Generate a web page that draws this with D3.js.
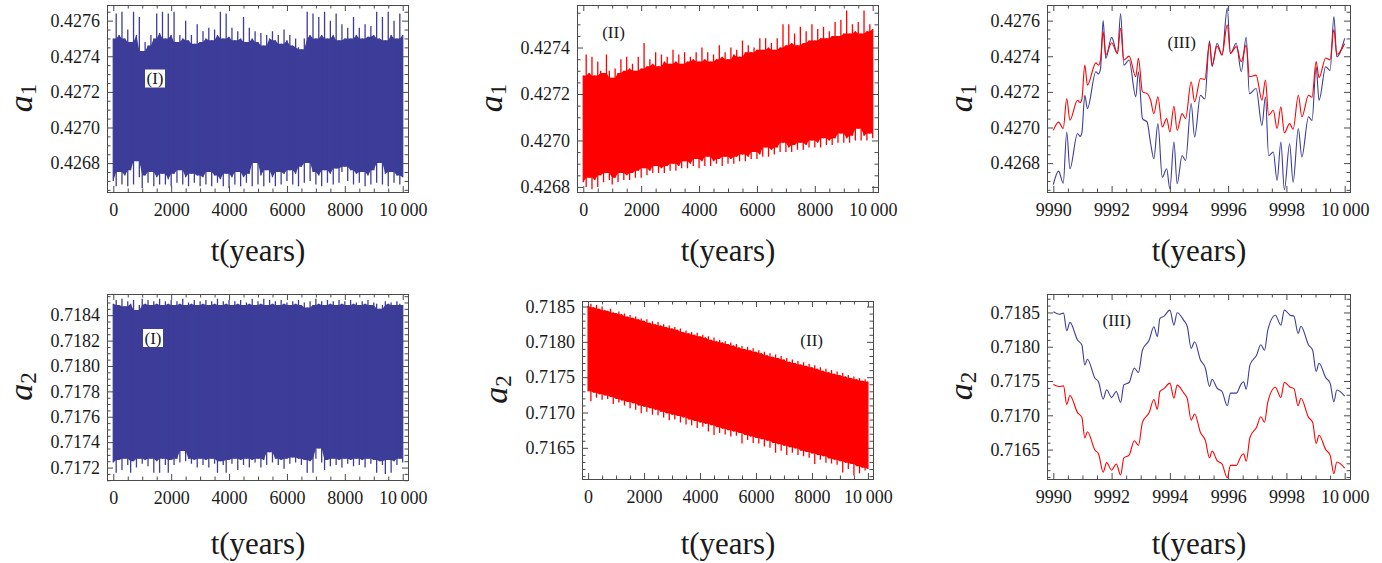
<!DOCTYPE html>
<html><head><meta charset="utf-8">
<script src="https://cdn.jsdelivr.net/npm/d3@7"></script>
<style>
body{margin:0;background:#fff;} svg{display:block;}
svg text{font-family:"Liberation Serif","Times New Roman",Times,serif !important;}
</style>
</head><body>
<svg id="c" width="1382" height="563"></svg>
<script>
// ================= DATA =================
const xTicksLong  = [0, 2000, 4000, 6000, 8000, 10000];
const xTicksShort = [9990, 9992, 9994, 9996, 9998, 10000];
const yTicksA1    = [0.4268, 0.4270, 0.4272, 0.4274, 0.4276];
const yTicksA1II  = [0.4268, 0.4270, 0.4272, 0.4274];
const yTicksA2    = [0.7172, 0.7174, 0.7176, 0.7178, 0.7180, 0.7182, 0.7184];
const yTicksA2II  = [0.7165, 0.7170, 0.7175, 0.7180, 0.7185];

// dense runs: envelope (max / min) sampled every 100 years from t = 0 to t = 10000
const denseStart = 0, denseEnd = 10000;
const a1I_upper = [
 0.42750,0.42764,0.42752,0.42765,0.42750,0.42755,0.42748,0.42765,0.42752,0.42762,
 0.42743,0.42748,0.42746,0.42752,0.42750,0.42764,0.42753,0.42765,0.42750,0.42764,
 0.42752,0.42765,0.42748,0.42752,0.42750,0.42760,0.42749,0.42752,0.42747,0.42758,
 0.42748,0.42754,0.42750,0.42756,0.42749,0.42755,0.42752,0.42765,0.42750,0.42764,
 0.42751,0.42756,0.42749,0.42754,0.42750,0.42762,0.42748,0.42756,0.42750,0.42754,
 0.42748,0.42753,0.42746,0.42752,0.42750,0.42754,0.42749,0.42752,0.42747,0.42755,
 0.42749,0.42752,0.42746,0.42750,0.42745,0.42744,0.42750,0.42765,0.42752,0.42764,
 0.42750,0.42762,0.42752,0.42765,0.42750,0.42760,0.42752,0.42764,0.42749,0.42758,
 0.42750,0.42756,0.42750,0.42762,0.42752,0.42756,0.42750,0.42758,0.42751,0.42757,
 0.42752,0.42765,0.42750,0.42762,0.42749,0.42765,0.42752,0.42760,0.42750,0.42764,
 0.42752];
const a1I_lower = [
 0.42670,0.42667,0.42675,0.42668,0.42673,0.42667,0.42676,0.42668,0.42681,0.42672,
 0.42666,0.42673,0.42669,0.42675,0.42667,0.42672,0.42668,0.42674,0.42668,0.42671,
 0.42667,0.42674,0.42669,0.42676,0.42668,0.42672,0.42667,0.42674,0.42669,0.42673,
 0.42667,0.42672,0.42668,0.42675,0.42667,0.42673,0.42669,0.42671,0.42667,0.42674,
 0.42666,0.42672,0.42668,0.42675,0.42667,0.42672,0.42669,0.42674,0.42667,0.42680,
 0.42668,0.42673,0.42667,0.42676,0.42669,0.42672,0.42667,0.42675,0.42668,0.42674,
 0.42670,0.42676,0.42668,0.42674,0.42667,0.42678,0.42669,0.42680,0.42670,0.42675,
 0.42668,0.42673,0.42667,0.42676,0.42669,0.42674,0.42668,0.42677,0.42669,0.42675,
 0.42678,0.42670,0.42676,0.42668,0.42674,0.42669,0.42675,0.42667,0.42673,0.42668,
 0.42676,0.42669,0.42680,0.42668,0.42674,0.42667,0.42675,0.42669,0.42673,0.42668,
 0.42672];
const a1II_upper = [
 0.42728,0.42737,0.42729,0.42736,0.42728,0.42734,0.42730,0.42729,0.42737,0.42730,
 0.42727,0.42731,0.42729,0.42735,0.42730,0.42736,0.42731,0.42733,0.42730,0.42736,
 0.42731,0.42742,0.42732,0.42735,0.42733,0.42738,0.42732,0.42737,0.42734,0.42736,
 0.42733,0.42739,0.42734,0.42737,0.42733,0.42738,0.42734,0.42736,0.42735,0.42738,
 0.42734,0.42740,0.42735,0.42738,0.42734,0.42737,0.42735,0.42741,0.42736,0.42738,
 0.42735,0.42740,0.42737,0.42739,0.42736,0.42743,0.42738,0.42741,0.42738,0.42740,
 0.42739,0.42744,0.42739,0.42744,0.42740,0.42742,0.42739,0.42744,0.42740,0.42750,
 0.42741,0.42750,0.42742,0.42746,0.42741,0.42749,0.42742,0.42747,0.42743,0.42750,
 0.42743,0.42748,0.42744,0.42749,0.42744,0.42747,0.42745,0.42751,0.42745,0.42752,
 0.42746,0.42756,0.42746,0.42750,0.42747,0.42751,0.42746,0.42756,0.42747,0.42750,
 0.42748];
const a1II_lower = [
 0.42682,0.42680,0.42684,0.42679,0.42683,0.42680,0.42685,0.42682,0.42686,0.42683,
 0.42681,0.42684,0.42682,0.42686,0.42683,0.42685,0.42683,0.42686,0.42684,0.42687,
 0.42684,0.42688,0.42685,0.42687,0.42686,0.42689,0.42686,0.42688,0.42686,0.42689,
 0.42687,0.42690,0.42687,0.42689,0.42688,0.42691,0.42688,0.42690,0.42689,0.42692,
 0.42688,0.42691,0.42689,0.42693,0.42689,0.42691,0.42690,0.42692,0.42689,0.42693,
 0.42690,0.42692,0.42690,0.42693,0.42691,0.42694,0.42691,0.42693,0.42692,0.42695,
 0.42692,0.42694,0.42693,0.42697,0.42693,0.42696,0.42694,0.42697,0.42695,0.42699,
 0.42695,0.42697,0.42695,0.42698,0.42696,0.42699,0.42696,0.42698,0.42697,0.42700,
 0.42697,0.42699,0.42697,0.42701,0.42698,0.42700,0.42698,0.42701,0.42699,0.42703,
 0.42699,0.42701,0.42699,0.42702,0.42700,0.42705,0.42700,0.42702,0.42700,0.42703,
 0.42701];
const a2I_upper = [
 0.71849,0.71852,0.71848,0.71853,0.71847,0.71851,0.71849,0.71852,0.71844,0.71848,
 0.71853,0.71849,0.71852,0.71848,0.71851,0.71849,0.71853,0.71848,0.71851,0.71849,
 0.71852,0.71848,0.71851,0.71849,0.71853,0.71848,0.71850,0.71849,0.71852,0.71848,
 0.71851,0.71849,0.71852,0.71848,0.71851,0.71849,0.71853,0.71848,0.71851,0.71849,
 0.71852,0.71848,0.71851,0.71849,0.71852,0.71848,0.71850,0.71849,0.71853,0.71848,
 0.71851,0.71849,0.71853,0.71848,0.71852,0.71849,0.71851,0.71848,0.71852,0.71849,
 0.71850,0.71848,0.71851,0.71849,0.71852,0.71848,0.71850,0.71846,0.71851,0.71848,
 0.71853,0.71849,0.71851,0.71848,0.71852,0.71849,0.71851,0.71848,0.71852,0.71849,
 0.71851,0.71848,0.71852,0.71849,0.71850,0.71848,0.71851,0.71849,0.71852,0.71848,
 0.71850,0.71849,0.71845,0.71848,0.71851,0.71849,0.71850,0.71848,0.71851,0.71849,
 0.71848];
const a2I_lower = [
 0.71724,0.71716,0.71726,0.71718,0.71727,0.71722,0.71716,0.71725,0.71720,0.71727,
 0.71723,0.71726,0.71721,0.71727,0.71716,0.71725,0.71716,0.71727,0.71722,0.71716,
 0.71726,0.71722,0.71727,0.71724,0.71733,0.71725,0.71727,0.71723,0.71726,0.71720,
 0.71727,0.71722,0.71726,0.71720,0.71727,0.71723,0.71716,0.71725,0.71722,0.71716,
 0.71726,0.71723,0.71727,0.71718,0.71726,0.71722,0.71727,0.71720,0.71726,0.71724,
 0.71727,0.71720,0.71726,0.71722,0.71732,0.71724,0.71727,0.71722,0.71726,0.71719,
 0.71727,0.71723,0.71728,0.71724,0.71727,0.71722,0.71726,0.71716,0.71725,0.71716,
 0.71727,0.71735,0.71724,0.71718,0.71726,0.71721,0.71727,0.71722,0.71726,0.71720,
 0.71727,0.71723,0.71726,0.71721,0.71727,0.71722,0.71726,0.71720,0.71727,0.71723,
 0.71726,0.71716,0.71725,0.71722,0.71715,0.71726,0.71716,0.71725,0.71722,0.71727,
 0.71724];
const a2II_upper = [
 0.71851,0.71854,0.71849,0.71852,0.71847,0.71850,0.71845,0.71844,0.71847,0.71842,
 0.71841,0.71843,0.71839,0.71840,0.71836,0.71838,0.71834,0.71836,0.71832,0.71833,
 0.71830,0.71832,0.71827,0.71829,0.71825,0.71828,0.71823,0.71825,0.71821,0.71823,
 0.71819,0.71821,0.71817,0.71819,0.71814,0.71816,0.71812,0.71814,0.71810,0.71813,
 0.71808,0.71810,0.71806,0.71808,0.71803,0.71806,0.71801,0.71803,0.71799,0.71801,
 0.71797,0.71799,0.71795,0.71797,0.71792,0.71794,0.71790,0.71793,0.71788,0.71791,
 0.71786,0.71788,0.71784,0.71786,0.71781,0.71784,0.71779,0.71782,0.71777,0.71780,
 0.71775,0.71777,0.71772,0.71775,0.71770,0.71773,0.71768,0.71771,0.71766,0.71769,
 0.71764,0.71767,0.71762,0.71764,0.71759,0.71762,0.71757,0.71760,0.71755,0.71758,
 0.71753,0.71756,0.71751,0.71753,0.71749,0.71751,0.71747,0.71749,0.71745,0.71747,
 0.71744];
const a2II_lower = [
 0.71730,0.71716,0.71728,0.71721,0.71726,0.71718,0.71724,0.71719,0.71722,0.71712,
 0.71719,0.71714,0.71717,0.71710,0.71715,0.71706,0.71713,0.71704,0.71710,0.71699,
 0.71708,0.71701,0.71706,0.71697,0.71704,0.71696,0.71701,0.71693,0.71699,0.71689,
 0.71697,0.71690,0.71695,0.71686,0.71693,0.71683,0.71690,0.71682,0.71688,0.71678,
 0.71686,0.71680,0.71684,0.71673,0.71682,0.71668,0.71679,0.71671,0.71677,0.71669,
 0.71675,0.71666,0.71673,0.71667,0.71671,0.71656,0.71668,0.71661,0.71666,0.71657,
 0.71664,0.71656,0.71662,0.71652,0.71660,0.71650,0.71657,0.71643,0.71655,0.71646,
 0.71653,0.71640,0.71651,0.71643,0.71649,0.71640,0.71646,0.71638,0.71644,0.71636,
 0.71642,0.71627,0.71640,0.71633,0.71638,0.71629,0.71635,0.71628,0.71633,0.71626,
 0.71631,0.71615,0.71629,0.71620,0.71627,0.71611,0.71624,0.71614,0.71622,0.71618,
 0.71620];

// last ten years, a1: times and values of both runs
const tZoomA1 = [9990.00,9990.18,9990.34,9990.46,9990.57,9990.83,9990.92,9990.98,9991.08,9991.17,
 9991.46,9991.55,9991.62,9991.71,9991.80,9992.00,9992.20,9992.31,9992.42,9992.60,
 9992.83,9992.92,9993.06,9993.22,9993.34,9993.45,9993.59,9993.74,9993.89,9994.00,
 9994.14,9994.25,9994.42,9994.54,9994.73,9994.85,9995.05,9995.20,9995.36,9995.45,
 9995.62,9995.79,9995.97,9996.08,9996.28,9996.45,9996.62,9996.73,9996.96,9997.16,
 9997.28,9997.39,9997.55,9997.68,9997.81,9997.93,9998.11,9998.23,9998.41,9998.53,
 9998.76,9998.88,9999.02,9999.12,9999.35,9999.50,9999.63,9999.73,10000.00];
const a1III_blue = [0.426680,0.426755,0.426687,0.426975,0.426768,0.426966,0.426950,0.426970,0.427181,0.427106,
 0.427313,0.427300,0.427330,0.427600,0.427388,0.427506,0.427416,0.427638,0.427350,0.427379,
 0.427172,0.427313,0.427050,0.427030,0.426910,0.426825,0.427022,0.426721,0.426768,0.426656,
 0.426918,0.426684,0.426843,0.426815,0.427135,0.426947,0.427181,0.427160,0.427487,0.427341,
 0.427473,0.427407,0.427670,0.427416,0.427473,0.427313,0.427506,0.427190,0.427219,0.427012,
 0.427172,0.426843,0.426862,0.426702,0.426918,0.426650,0.426909,0.426693,0.426994,0.426834,
 0.427060,0.427040,0.427341,0.427153,0.427341,0.427320,0.427623,0.427397,0.427500];
const a1III_red = [0.426984,0.427030,0.426994,0.427163,0.427041,0.427153,0.427140,0.427160,0.427350,0.427238,
 0.427363,0.427350,0.427380,0.427538,0.427407,0.427476,0.427416,0.427557,0.427379,0.427401,
 0.427285,0.427388,0.427200,0.427190,0.427153,0.427078,0.427172,0.427003,0.427050,0.426975,
 0.427119,0.426984,0.427078,0.427050,0.427256,0.427144,0.427275,0.427270,0.427473,0.427350,
 0.427457,0.427407,0.427576,0.427416,0.427454,0.427370,0.427463,0.427285,0.427294,0.427153,
 0.427266,0.427069,0.427097,0.426994,0.427116,0.426970,0.427022,0.426990,0.427181,0.427060,
 0.427181,0.427170,0.427370,0.427280,0.427390,0.427380,0.427550,0.427410,0.427470];

// last ten years, a2
const tZoomA2 = [9990.00,9990.20,9990.35,9990.46,9990.57,9990.83,9990.98,9991.08,9991.17,9991.43,
 9991.55,9991.71,9991.83,9992.00,9992.16,9992.31,9992.42,9992.60,9992.78,9992.92,
 9993.06,9993.29,9993.45,9993.57,9993.66,9993.80,9994.00,9994.14,9994.25,9994.47,
 9994.60,9994.73,9994.85,9995.05,9995.22,9995.36,9995.45,9995.62,9995.79,9995.97,
 9996.08,9996.28,9996.45,9996.53,9996.62,9996.75,9996.98,9997.12,9997.25,9997.36,
 9997.62,9997.81,9997.93,9998.13,9998.26,9998.40,9998.50,9998.76,9998.90,9999.02,
 9999.12,9999.35,9999.50,9999.63,9999.73,10000.00];
const a2III_blue = [0.718510,0.718475,0.718490,0.718234,0.718355,0.718098,0.718025,0.717735,0.717817,0.717541,
 0.717490,0.717236,0.717372,0.717261,0.717348,0.717188,0.717444,0.717479,0.717690,0.717624,
 0.717953,0.718098,0.718292,0.718147,0.718413,0.718446,0.718534,0.718316,0.718496,0.718389,
 0.718292,0.717977,0.718074,0.717807,0.717687,0.717421,0.717527,0.717396,0.717348,0.717139,
 0.717323,0.717323,0.717460,0.717490,0.717380,0.717735,0.717880,0.718030,0.717950,0.718240,
 0.718460,0.718316,0.718534,0.718461,0.718446,0.718195,0.718300,0.718025,0.717950,0.717640,
 0.717760,0.717550,0.717470,0.717200,0.717370,0.717280];
const a2III_red = [0.717450,0.717420,0.717430,0.717160,0.717290,0.717040,0.716970,0.716670,0.716760,0.716490,
 0.716440,0.716170,0.716310,0.716200,0.716290,0.716130,0.716380,0.716420,0.716630,0.716560,
 0.716900,0.717040,0.717230,0.717090,0.717350,0.717390,0.717470,0.717250,0.717440,0.717330,
 0.717240,0.716930,0.717020,0.716750,0.716630,0.716380,0.716480,0.716340,0.716290,0.716090,
 0.716270,0.716270,0.716410,0.716440,0.716330,0.716680,0.716830,0.716980,0.716900,0.717190,
 0.717410,0.717260,0.717480,0.717410,0.717390,0.717140,0.717250,0.716970,0.716900,0.716590,
 0.716710,0.716500,0.716420,0.716150,0.716320,0.716230];

// ================= DRAWING =================
const svg = d3.select('#c');
const FONT = "'Liberation Serif','Times New Roman',Times,serif";
const BLUE = '#3d3d99', RED = '#ff0000', FRAME = '#4a4a4a', TXT = '#1a1a1a';
const TICK_FS = 18;

const fmtX = v => v >= 10000 ? d3.format(',')(v).replace(/,/g, '\u2009') : String(v);
const fmtY = d3.format('.4f');

function minorTicks(domain, step, majors) {
  const lo = Math.ceil(Math.min(...domain) / step - 1e-9), hi = Math.floor(Math.max(...domain) / step + 1e-9);
  const out = [];
  for (let k = lo; k <= hi; k++) {
    const v = k * step;
    if (!majors.some(m => Math.abs(m - v) < step * 1e-3)) out.push(v);
  }
  return out;
}
function denseRows(upper, lower) {
  const n = Math.min(upper.length, lower.length);
  const step = (denseEnd - denseStart) / (n - 1);
  return d3.range(n).map(i => {
    const a = Math.max(0, i - 1), b = Math.min(n - 1, i + 1);
    return { t: denseStart + i * step, u: upper[i], l: lower[i],
             cu: d3.min(upper.slice(a, b + 1)), cl: d3.max(lower.slice(a, b + 1)) };
  });
}

const panels = [
  { id: 1, x0: 107.5, x1: 408.5, y0: 5.5, y1: 192.5, xd: [-200, 10200], yd: [0.426635, 0.427685],
    xTicks: xTicksLong, xMinor: 500, yTicks: yTicksA1, yMinor: 0.00005,
    band: { up: a1I_upper, lo: a1I_lower, color: BLUE }, sub: '1', label: '(I)', lx: 155, ly: 79, box: true, titleY: 261 },
  { id: 2, x0: 577.5, x1: 878.5, y0: 5.5, y1: 192.5, xd: [-200, 10200], yd: [0.426776, 0.427581],
    xTicks: xTicksLong, xMinor: 500, yTicks: yTicksA1II, yMinor: 0.00005,
    band: { up: a1II_upper, lo: a1II_lower, color: RED }, sub: '1', label: '(II)', lx: 613.5, ly: 32.5, titleY: 261 },
  { id: 3, x0: 1047.5, x1: 1350.5, y0: 5.5, y1: 192.5, xd: [9989.8, 10000.2], yd: [0.426635, 0.427685],
    xTicks: xTicksShort, xMinor: 0.5, yTicks: yTicksA1, yMinor: 0.00005,
    lines: [{ t: tZoomA1, v: a1III_blue, color: BLUE }, { t: tZoomA1, v: a1III_red, color: RED }],
    sub: '1', label: '(III)', lx: 1181.7, ly: 42.5, titleY: 261 },
  { id: 4, x0: 107.5, x1: 408.5, y0: 294.5, y1: 480.5, xd: [-200, 10200], yd: [0.717098, 0.718563],
    xTicks: xTicksLong, xMinor: 500, yTicks: yTicksA2, yMinor: 0.00005,
    band: { up: a2I_upper, lo: a2I_lower, color: BLUE }, sub: '2', label: '(I)', lx: 153, ly: 338.5, box: true, titleY: 554 },
  { id: 5, x0: 582.5, x1: 873.5, y0: 301.5, y1: 479.5, xd: [-200, 10200], yd: [0.716052, 0.718571],
    xTicks: xTicksLong, xMinor: 500, yTicks: yTicksA2II, yMinor: 0.0001,
    band: { up: a2II_upper, lo: a2II_lower, color: RED }, sub: '2', label: '(II)', lx: 811.7, ly: 340.5, titleY: 554 },
  { id: 6, x0: 1047.5, x1: 1350.5, y0: 294.5, y1: 479.5, xd: [9989.8, 10000.2], yd: [0.716064, 0.718762],
    xTicks: xTicksShort, xMinor: 0.5, yTicks: yTicksA2II, yMinor: 0.0001,
    lines: [{ t: tZoomA2, v: a2III_blue, color: BLUE }, { t: tZoomA2, v: a2III_red, color: RED }],
    sub: '2', label: '(III)', lx: 1116.7, ly: 320.5, titleY: 554 }
];

const defs = svg.append('defs');

function styleAxis(sel) {
  sel.select('.domain').remove();
  sel.attr('font-family', FONT).attr('font-size', TICK_FS);
  sel.selectAll('line').attr('stroke', FRAME).attr('stroke-width', 1);
  sel.selectAll('text').attr('fill', TXT);
}

panels.forEach(c => {
  const g = svg.append('g');
  const x = d3.scaleLinear().domain(c.xd).range([c.x0, c.x1]);
  const y = d3.scaleLinear().domain(c.yd).range([c.y1, c.y0]);

  defs.append('clipPath').attr('id', 'clip' + c.id).append('rect')
    .attr('x', c.x0).attr('y', c.y0).attr('width', c.x1 - c.x0).attr('height', c.y1 - c.y0);
  const plot = g.append('g').attr('clip-path', `url(#clip${c.id})`);

  if (c.band) {
    const rows = denseRows(c.band.up, c.band.lo);
    // solid core of the oscillation
    const core = d3.area().x(d => x(d.t)).y0(d => y(d.cl)).y1(d => y(d.cu));
    plot.append('path').datum(rows).attr('d', core).attr('fill', c.band.color);
    // thin excursions reaching the sampled extremes
    plot.append('g').selectAll('line').data(rows).join('line')
      .attr('x1', d => x(d.t)).attr('x2', d => x(d.t))
      .attr('y1', d => y(d.l)).attr('y2', d => y(d.u))
      .attr('stroke', c.band.color).attr('stroke-width', 1.3);
  }
  if (c.lines) {
    c.lines.forEach(L => {
      const pts = L.t.map((t, i) => [t, L.v[i]]);
      plot.append('path').datum(pts)
        .attr('d', d3.line().x(d => x(d[0])).y(d => y(d[1])).curve(d3.curveMonotoneX))
        .attr('fill', 'none').attr('stroke', L.color).attr('stroke-width', 1.1);
    });
  }

  // panel label
  const lab = g.append('text').attr('x', c.lx).attr('y', c.ly + 5)
    .attr('text-anchor', 'middle').attr('font-family', FONT).attr('font-size', 17)
    .attr('fill', TXT).text(c.label);
  if (c.box) {
    const bb = lab.node().getBBox();
    g.insert('rect', () => lab.node())
      .attr('x', bb.x - 1.5).attr('y', bb.y + 0.5).attr('width', bb.width + 3).attr('height', bb.height - 1)
      .attr('fill', '#fff');
  }

  // axes (ticks inward on all four sides)
  const xMin = minorTicks(c.xd, c.xMinor, c.xTicks);
  const yMin = minorTicks(c.yd, c.yMinor, c.yTicks);
  g.append('g').attr('transform', `translate(0,${c.y1 - 0.5})`)
    .call(d3.axisBottom(x).tickValues(c.xTicks).tickSize(-6).tickPadding(11).tickFormat(fmtX)).call(styleAxis);
  g.append('g').attr('transform', `translate(0,${c.y1 - 0.5})`)
    .call(d3.axisBottom(x).tickValues(xMin).tickSize(-3.5).tickFormat('')).call(styleAxis);
  g.append('g').attr('transform', `translate(0,${c.y0 - 0.5})`)
    .call(d3.axisTop(x).tickValues(c.xTicks).tickSize(-6).tickFormat('')).call(styleAxis);
  g.append('g').attr('transform', `translate(0,${c.y0 - 0.5})`)
    .call(d3.axisTop(x).tickValues(xMin).tickSize(-3.5).tickFormat('')).call(styleAxis);
  g.append('g').attr('transform', `translate(${c.x0 - 0.5},0)`)
    .call(d3.axisLeft(y).tickValues(c.yTicks).tickSize(-6).tickPadding(7).tickFormat(fmtY)).call(styleAxis);
  g.append('g').attr('transform', `translate(${c.x0 - 0.5},0)`)
    .call(d3.axisLeft(y).tickValues(yMin).tickSize(-3.5).tickFormat('')).call(styleAxis);
  g.append('g').attr('transform', `translate(${c.x1 - 0.5},0)`)
    .call(d3.axisRight(y).tickValues(c.yTicks).tickSize(-6).tickFormat('')).call(styleAxis);
  g.append('g').attr('transform', `translate(${c.x1 - 0.5},0)`)
    .call(d3.axisRight(y).tickValues(yMin).tickSize(-3.5).tickFormat('')).call(styleAxis);

  // frame
  g.append('rect').attr('x', c.x0).attr('y', c.y0).attr('width', c.x1 - c.x0).attr('height', c.y1 - c.y0)
    .attr('fill', 'none').attr('stroke', FRAME).attr('stroke-width', 1);

  // axis titles
  g.append('text').attr('x', (c.x0 + c.x1) / 2).attr('y', c.titleY)
    .attr('text-anchor', 'middle').attr('font-family', FONT).attr('font-size', 31)
    .attr('fill', TXT).text('t(years)');
  const yl = g.append('text')
    .attr('transform', `translate(${c.x0 - 76},${(c.y0 + c.y1) / 2 - 1}) rotate(-90)`)
    .attr('text-anchor', 'middle').attr('font-family', FONT).attr('fill', TXT);
  yl.append('tspan').attr('font-style', 'italic').attr('font-size', 34).text('a');
  yl.append('tspan').attr('font-size', 23).attr('dy', 4).text(c.sub);
});
</script>
</body></html>
